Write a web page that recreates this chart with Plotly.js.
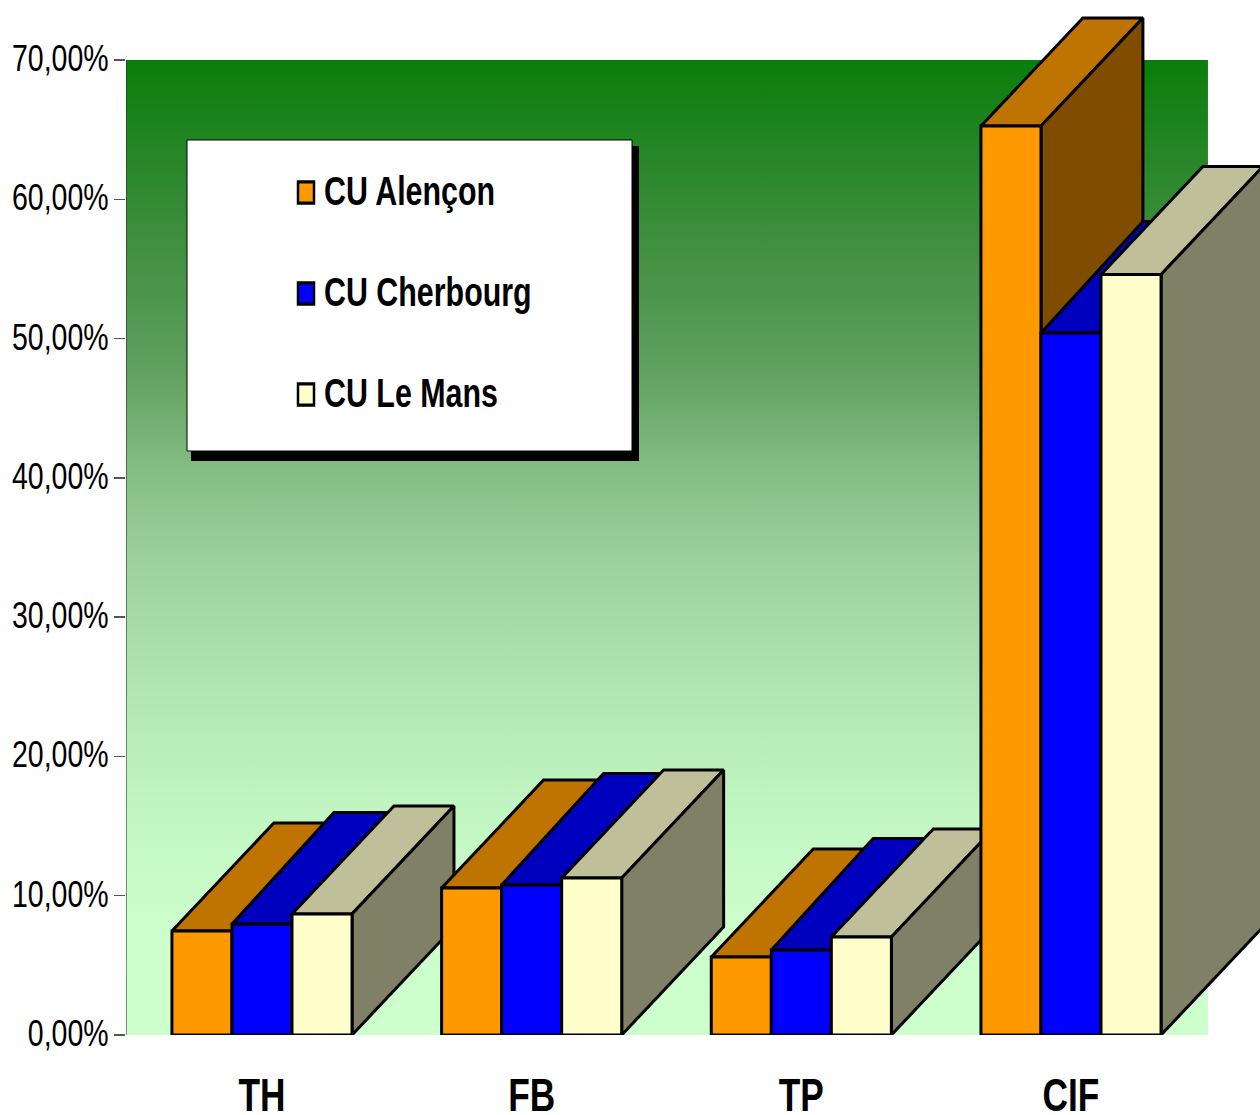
<!DOCTYPE html>
<html>
<head>
<meta charset="utf-8">
<script src="https://cdn.plot.ly/plotly-3.0.1.min.js"></script>
<style>
html, body { margin: 0; padding: 0; background: #fff; }
#chart { width: 1260px; height: 1115px; }
/* Upright legend keys and condensed legend lettering */
.legend .scatterpts { transform: translate(20px, 0) scaleY(1.32); }
.legend .legendtext { transform-box: fill-box; transform-origin: 0% 50%; transform: translate(-2px, -3px) scaleX(0.76); }
</style>
</head>
<body>
<div id="chart"></div>
<script>
const categories = ['TH', 'FB', 'TP', 'CIF'];
const cuAlencon = [7.47, 10.55, 5.6, 65.26];
const cuCherbourg = [7.97, 10.77, 6.1, 50.4];
const cuLeMans = [8.69, 11.27, 7.03, 54.6];
const yTicks = [0, 10, 20, 30, 40, 50, 60, 70];
const yTickLabels = ['0,00%', '10,00%', '20,00%', '30,00%', '40,00%', '50,00%', '60,00%', '70,00%'];

const seriesList = [
  { name: 'CU Alençon', values: cuAlencon, front: '#FF9900', top: '#BF7300', side: '#804D00' },
  { name: 'CU Cherbourg', values: cuCherbourg, front: '#0000FF', top: '#0000BF', side: '#000080' },
  { name: 'CU Le Mans', values: cuLeMans, front: '#FFFFCC', top: '#BFBF99', side: '#808066' }
];

// Oblique projection of the bars, in axis units.
const barWidth = 0.2226;
const depthX = 0.378;
const depthY = [7.755, 8.0, 7.755];

// The axes run past the backdrop so the bars' depth can reach the page edges.
const xLeft = -0.5043, xBackdropRight = 3.508, xRight = 3.7009;
const yTop = 74.31;

function face(xs, ys, color) {
  return {
    type: 'scatter', mode: 'lines', x: xs, y: ys, fill: 'toself', fillcolor: color,
    line: { color: '#000', width: 3, shape: 'linear', simplify: false },
    showlegend: false, hoverinfo: 'skip'
  };
}

const traces = [{
  // Backdrop gradient
  type: 'scatter', mode: 'none',
  x: [xLeft, xBackdropRight, xBackdropRight, xLeft, xLeft], y: [0, 0, 70, 70, 0],
  fill: 'toself',
  fillgradient: {
    type: 'vertical',
    colorscale: [
      [0, 'rgb(204,255,204)'], [0.12, 'rgb(203,254,203)'], [0.24, 'rgb(192,244,192)'],
      [0.36, 'rgb(176,228,176)'], [0.49, 'rgb(155,208,155)'], [0.585, 'rgb(130,188,130)'],
      [0.68, 'rgb(96,160,96)'], [0.84, 'rgb(56,140,56)'], [1, 'rgb(10,126,10)']
    ]
  },
  showlegend: false, hoverinfo: 'skip'
}, {
  // Value axis line, from zero to the top tick
  type: 'scatter', mode: 'lines', x: [xLeft, xLeft], y: [0, 70],
  line: { color: '#222', width: 1 }, showlegend: false, hoverinfo: 'skip'
}];

// Faces are painted back to front, category by category.
categories.forEach((cat, c) => {
  seriesList.forEach((s, i) => {
    const x0 = c + (i - 1.5) * barWidth;
    const x1 = x0 + barWidth;
    const v = s.values[c];
    const d = depthY[i];
    traces.push(face([x0, x1, x1 + depthX, x0 + depthX, x0], [v, v, v + d, v + d, v], s.top));
    traces.push(face([x1, x1 + depthX, x1 + depthX, x1, x1], [0, d, v + d, v, 0], s.side));
    traces.push(face([x0, x1, x1, x0, x0], [0, 0, v, v, 0], s.front));
  });
});

// Legend entries.
seriesList.forEach((s) => {
  traces.push({
    type: 'scatter', mode: 'markers', x: [null], y: [null], name: s.name, legendgroup: s.name,
    marker: { symbol: 'square', size: 16, color: s.front, line: { color: '#000', width: 2.5 } }
  });
});

const plotW = 1134, plotH = 1035;
const px = (p) => (p - 126) / plotW;
const py = (p) => (1035 - p) / plotH;
const family = '"Liberation Sans", Arial, sans-serif';

const layout = {
  width: 1260, height: 1115,
  margin: { l: 126, r: 0, t: 0, b: 80, pad: 0 },
  paper_bgcolor: '#fff', plot_bgcolor: 'rgba(0,0,0,0)',
  showlegend: true,
  hovermode: false,
  xaxis: {
    range: [xLeft, xRight], tickmode: 'array', tickvals: [0, 1, 2, 3], ticktext: categories,
    showgrid: false, zeroline: false, showline: false, ticks: '', ticklabelstandoff: 28,
    tickfont: { family, size: 47, color: '#000', weight: 700 }
  },
  yaxis: {
    range: [0, yTop], tickmode: 'array', tickvals: yTicks, ticktext: yTickLabels,
    showgrid: false, zeroline: false, showline: false,
    ticks: 'outside', ticklen: 11, tickcolor: '#555', tickwidth: 1.5,
    tickfont: { family, size: 37, color: '#000' }
  },
  legend: {
    xref: 'paper', yref: 'paper', x: px(286), y: py(160), xanchor: 'left', yanchor: 'top',
    bgcolor: 'rgba(0,0,0,0)', borderwidth: 0, tracegroupgap: 46, itemwidth: 30,
    itemclick: false, itemdoubleclick: false,
    font: { family, size: 40, color: '#000', weight: 700 }
  },
  shapes: [
    { type: 'rect', xref: 'paper', yref: 'paper', x0: px(191), x1: px(639), y0: py(461), y1: py(146),
      fillcolor: '#000', line: { width: 0 }, layer: 'above' },
    { type: 'rect', xref: 'paper', yref: 'paper', x0: px(187), x1: px(632), y0: py(451), y1: py(140),
      fillcolor: '#fff', line: { color: '#000', width: 1 }, layer: 'above' }
  ]
};

// Narrow the axis lettering about each label's own anchor point.
function condense(selector, scale, shiftX, shiftY) {
  document.querySelectorAll(selector).forEach((t) => {
    const ax = parseFloat(t.getAttribute('x')) || 0;
    const ay = parseFloat(t.getAttribute('y')) || 0;
    const base = t.getAttribute('transform') || '';
    t.setAttribute('transform',
      `${base} translate(${ax + shiftX},${ay + shiftY}) scale(${scale},1) translate(${-ax},${-ay})`);
  });
}

Plotly.newPlot('chart', traces, layout, { displayModeBar: false, staticPlot: true }).then(() => {
  condense('.ytick text', 0.77, 2, -2);
  condense('.xtick text', 0.75, 0, 0);
});
</script>
</body>
</html>
